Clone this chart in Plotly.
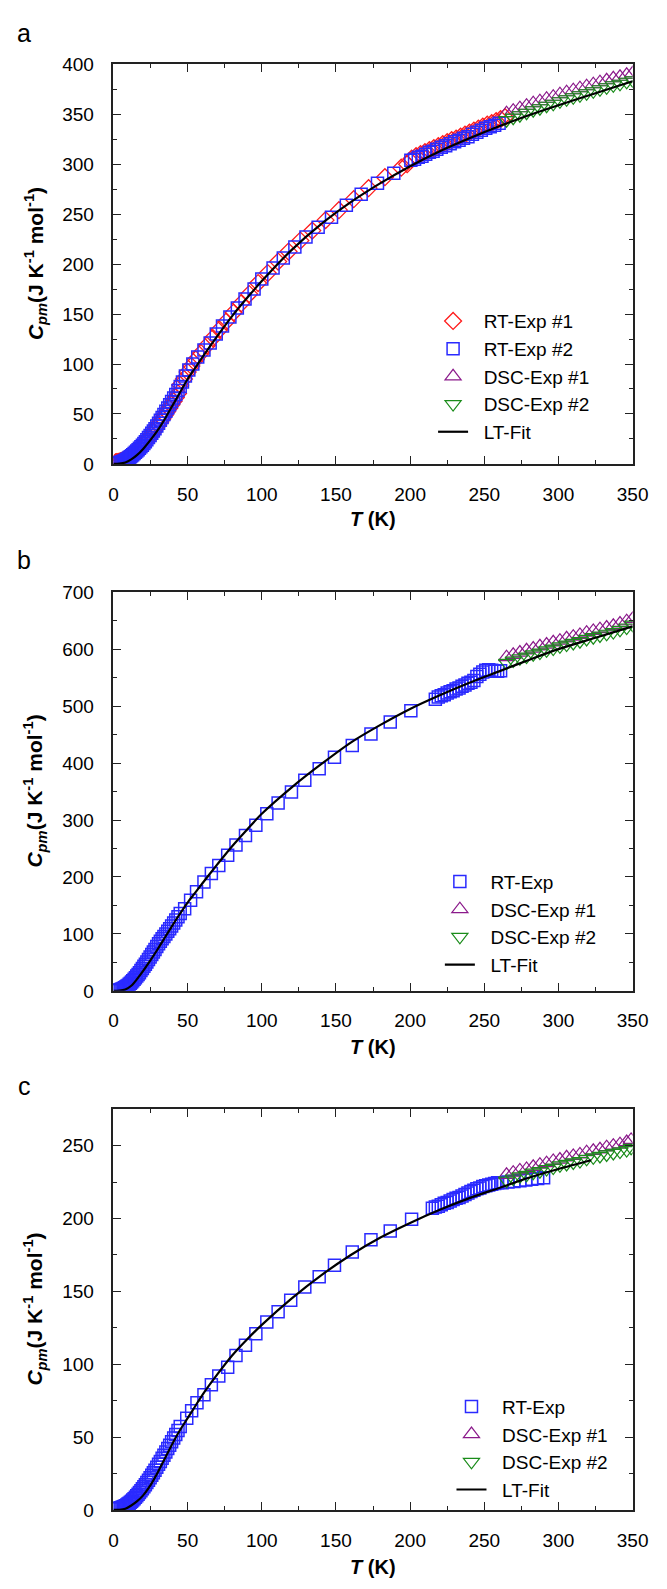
import plotly.graph_objects as go

# ---------------- data ----------------
# low-temperature grid (K) used by RT experiments
T_low = [1.0, 1.8, 2.6, 3.4, 4.2, 5.0, 5.8, 6.6, 7.4, 8.2, 9.0, 9.8, 10.6, 11.4, 12.2, 13.0,
         13.9, 14.8, 15.7, 16.6, 17.5, 18.5, 19.5, 20.5, 21.5, 22.5, 23.6, 24.7, 25.8, 26.9,
         28.0, 29.2, 30.4, 31.6, 32.8, 34.0, 35.3, 36.6, 37.9, 39.2, 40.6, 42.0, 43.5, 45.0]

# ---- panel a ----
a_rt2_T = T_low + [46.5, 48.5, 50.8, 53.5, 56.8, 61, 65.2, 69.3, 73.5, 78.5, 83.5, 88.7, 94.8, 100,
                   107.6, 114.5, 122.3, 129.8, 138, 147, 157, 167, 178, 189,
                   200.5, 203, 205.5, 208, 210.5, 213, 215.5, 218, 221, 224, 227, 230, 233, 236,
                   239, 242, 245, 248, 251, 254, 257, 260]
a_rt2_C = [0.5, 0.6, 0.8, 1.0, 1.3, 1.7, 2.1, 2.6, 3.2, 3.9, 4.6, 5.4, 6.3, 7.2, 8.2, 9.2,
           10.4, 11.6, 12.9, 14.2, 15.6, 17.2, 18.8, 20.5, 22.3, 24.2, 26.4, 28.5, 30.6, 32.9,
           35.3, 38.0, 40.8, 43.6, 46.5, 49.4, 52.6, 55.9, 59.2, 62.5, 66.0, 69.6, 73.5, 77.5] + \
          [82, 88, 94, 100, 107, 114, 121, 130, 138, 147, 156, 165, 175, 185,
           196, 206, 217, 227, 237, 247, 259, 270, 281, 291,
           304, 305, 307, 308, 310, 312, 313, 315, 317, 318.5, 320.5, 322.5, 324, 326,
           327.5, 330, 332, 334, 336, 337.5, 339, 341]

a_rt1_T = [1.4, 2.2, 3.0, 3.8, 4.6, 5.4, 6.2, 7.0, 7.8, 8.6, 9.4, 10.2, 11.0, 12.0, 13.0, 14.0,
           15.2, 16.4, 17.6, 18.8, 20.0, 21.4, 22.8, 24.2, 25.6, 27.0, 28.5, 30.0, 31.5, 33.0,
           34.5, 36.0, 37.5, 39.0, 40.5, 42.0, 43.5,
           45, 47.5, 50, 52.5, 55.5, 59, 63, 67, 71.5, 76, 81, 86, 91.5, 97.5, 104, 111, 118,
           126, 134, 143, 152, 162, 172, 183, 194, 198,
           201, 204, 207, 210, 213, 216, 219, 222, 225, 228, 231, 234, 237, 240, 243, 246,
           249, 252, 255, 258, 261, 264]
a_rt1_C = [1.5, 1.7, 1.9, 2.2, 2.5, 2.9, 3.3, 3.8, 4.4, 5.0, 5.7, 6.5, 7.3, 8.4, 9.6, 10.9,
           12.4, 14.0, 15.7, 17.4, 19.3, 21.8, 24.4, 27.0, 29.6, 32.3, 35.4, 38.6, 41.9, 45.2,
           48.6, 52.1, 55.6, 59.2, 62.8, 66.5, 70.5,
           79, 85, 92, 98, 104.5, 111, 118.5, 126, 134.5, 142.5, 151.5, 160.5, 170, 181, 191,
           202.5, 212.5, 223.5, 233.5, 244, 254, 265, 276, 287, 296.5, 300,
           305.5, 308, 310, 312, 314, 316, 318, 320, 322, 324, 325.5, 327.5, 329.5, 331.5,
           333.5, 335.5, 337.5, 339.5, 341, 343, 345, 347]

dsc_T = [265, 269.5, 274, 278.5, 283, 287.5, 292, 296.5, 301, 305.5, 310, 314.5, 319, 323.5,
         328, 332.5, 337, 341.5, 346, 350]
a_dsc1_C = [351, 353.5, 356, 358.5, 361, 363, 365.5, 367.5, 370, 372, 374, 376, 378, 380,
            382, 384, 386, 387.5, 389.5, 391]
a_dsc2_C = [344, 346.5, 349, 351.5, 354, 356, 358.5, 360.5, 363, 365, 367, 369, 371, 373,
            375, 377, 379, 380.5, 382.5, 384]

fit_T = [0, 4, 8, 12, 16, 20, 25, 30, 35, 40, 45, 50, 55, 60, 70, 80, 90, 100, 120, 140, 160,
         180, 200, 220, 240, 260, 280, 300, 325, 350]
a_fit_C = [0, 0.3, 1.5, 4.5, 9, 15, 24, 34, 46, 59, 72, 85, 96, 107, 128, 148, 166, 183, 214,
           240, 262, 281, 298, 313, 326, 338, 349, 359, 371, 383]

# ---- panel b ----
b_rt_T = T_low + [48, 52, 56, 61, 66, 71, 77, 82.6, 89, 96, 103.4, 111, 120, 129, 138.7, 149,
                  161, 173.6, 186.6, 200.5,
                  217, 219, 221, 223, 225, 227, 229, 231, 233, 235, 237, 239, 241, 243, 245,
                  247, 249, 251, 253, 255, 257, 259, 261]
b_rt_C = [0.5, 0.7, 1.0, 1.4, 1.9, 2.5, 3.3, 4.2, 5.3, 6.6, 8.0, 9.6, 11.4, 13.3, 15.4, 17.6,
          20.2, 23.0, 25.9, 28.9, 32.0, 35.6, 39.3, 43.0, 46.8, 50.7, 55.0, 59.4, 63.8, 68.3,
          72.8, 77.7, 82.6, 87.3, 91.5, 95.5, 100, 104.5, 109, 114, 119, 124.5, 130, 136] + \
         [144, 159, 174, 191, 206, 220, 238, 256, 273, 291, 311, 330, 349, 370, 390, 410,
          431, 451, 472, 492,
          512, 516, 518, 520, 523, 525, 527, 530, 532, 535, 537, 540, 542, 545, 552,
          556, 560, 563, 564, 563, 561, 561, 562]
b_dsc1_C = [586, 590, 594, 598, 601, 605, 608, 612, 615, 619, 622, 625, 629, 632, 635, 638,
            641, 645, 649, 653]
b_dsc2_C = [576, 580, 584, 587, 591, 594, 598, 601, 605, 608, 611, 614, 618, 621, 624, 627,
            630, 634, 638, 643]
b_fit_C = [0, 0.4, 2.5, 9, 21, 35, 54, 74, 95, 116, 136, 155, 172, 189, 222, 254, 283, 311,
           357, 398, 436, 467, 495, 519, 541, 561, 581, 600, 620, 640]

# ---- panel c ----
c_rt_T = T_low + [49.4, 52.7, 56.3, 61, 66, 71, 77, 82.6, 89, 96, 103.4, 111, 119.5, 129,
                  138.7, 149, 161, 173.6, 186.6, 201,
                  215, 217, 219, 221, 223, 225, 227, 229, 231, 233, 235, 237, 239, 241, 243,
                  245, 247, 249, 251, 253, 255, 257, 259, 262, 266, 270, 274, 278, 282, 286, 290]
c_rt_C = [0.8, 0.9, 1.0, 1.1, 1.3, 1.5, 1.8, 2.1, 2.5, 2.9, 3.4, 4.0, 4.6, 5.3, 6.0, 6.8,
          7.7, 8.7, 9.7, 10.8, 11.9, 13.2, 14.5, 15.9, 17.3, 18.8, 20.4, 22.1, 23.8, 25.5,
          27.3, 29.3, 31.3, 33.3, 35.4, 37.5, 39.8, 42.1, 44.4, 46.8, 49.3, 51.8, 54.5, 57.2] + \
         [63, 68, 73.5, 79, 86, 92, 98, 106, 113, 121, 129, 136, 144, 153, 160, 168, 177,
          185.5, 191.5, 199.5,
          207, 208, 208.5, 209.5, 210.5, 211, 212, 213, 214, 214.5, 215.5, 216.5, 217.5,
          218.5, 219.5, 220.5, 221, 222, 222.5, 223, 223.5, 224, 224.5, 224.5, 225, 225.5,
          226, 226.5, 227, 227.5, 228]
c_dsc_T = [265, 269.5, 274, 278.5, 283, 287.5, 292, 296.5, 301, 305.5, 310, 314.5, 319, 323.5,
           328, 332.5, 337, 341.5, 346, 349]
c_dsc1_C = [230, 231.5, 233, 234, 235.5, 237, 238, 239.5, 240.5, 242, 243, 244, 245.5, 246.5,
            247.5, 249, 250, 251, 252.5, 254]
c_dsc2_C = [226, 227.5, 229, 230, 231.5, 232.5, 234, 235, 236.5, 237.5, 238.5, 239.5, 241,
            242, 243, 244, 245, 246, 247, 248.5]
c_fit_T = [0, 4, 8, 12, 16, 20, 25, 30, 35, 40, 45, 50, 55, 60, 70, 80, 90, 100, 120, 140, 160,
           180, 200, 220, 240, 260, 280, 300, 322]
c_fit_C = [0, 0.1, 0.8, 3, 6, 10, 17, 26, 36, 46, 55, 63, 71, 79, 93, 106, 117, 127, 145, 161,
           175, 187, 197, 206, 214, 221, 228, 234, 240]

# ---------------- styling ----------------
W, H = 667, 1589
FONT = "Liberation Sans, Arial, sans-serif"
RED, BLUE, PURPLE, GREEN = "#ff1a1a", "#2a2aff", "#8b1a8b", "#1a8c1a"
NB = "\u00a0\u00a0"   # small gap between legend symbol and its label

# plot-area pixel boxes (left, right, top, bottom)
X_L, X_R = 112, 648
boxes = [(55, 460), (590, 994), (1114, 1520)]


def ydom(top, bot):
    return [1 - bot / H, 1 - top / H]


fig = go.Figure()


def sq(x, y, name, leg, xa, ya):
    return go.Scatter(x=x, y=y, mode="markers", name=NB + name, legend=leg, xaxis=xa, yaxis=ya,
                      marker=dict(symbol="square-open", size=12, color=BLUE,
                                  line=dict(width=1.5, color=BLUE)))


def dia(x, y, name, leg, xa, ya):
    return go.Scatter(x=x, y=y, mode="markers", name=NB + name, legend=leg, xaxis=xa, yaxis=ya,
                      marker=dict(symbol="diamond-open", size=13, color=RED,
                                  line=dict(width=1.3, color=RED)))


def tri(x, y, name, leg, xa, ya, up=True):
    col = PURPLE if up else GREEN
    return go.Scatter(x=x, y=y, mode="markers", name=NB + name, legend=leg, xaxis=xa, yaxis=ya,
                      marker=dict(symbol="triangle-up-open" if up else "triangle-down-open",
                                  size=14, color=col, line=dict(width=1.2, color=col)))


def fit(x, y, leg, xa, ya):
    return go.Scatter(x=x, y=y, mode="lines", name=NB + "LT-Fit", legend=leg, xaxis=xa,
                      yaxis=ya,
                      line=dict(color="black", width=2.2, shape="spline", smoothing=0.8))


# panel a
fig.add_trace(dia(a_rt1_T, a_rt1_C, "RT-Exp #1", "legend", "x", "y"))
fig.add_trace(sq(a_rt2_T, a_rt2_C, "RT-Exp #2", "legend", "x", "y"))
fig.add_trace(tri(dsc_T, a_dsc1_C, "DSC-Exp #1", "legend", "x", "y", True))
fig.add_trace(tri(dsc_T, a_dsc2_C, "DSC-Exp #2", "legend", "x", "y", False))
fig.add_trace(fit(fit_T, a_fit_C, "legend", "x", "y"))
# panel b
fig.add_trace(sq(b_rt_T, b_rt_C, "RT-Exp", "legend2", "x2", "y2"))
fig.add_trace(tri(dsc_T, b_dsc1_C, "DSC-Exp #1", "legend2", "x2", "y2", True))
fig.add_trace(tri(dsc_T, b_dsc2_C, "DSC-Exp #2", "legend2", "x2", "y2", False))
fig.add_trace(fit(fit_T, b_fit_C, "legend2", "x2", "y2"))
# panel c
fig.add_trace(sq(c_rt_T, c_rt_C, "RT-Exp", "legend3", "x3", "y3"))
fig.add_trace(tri(c_dsc_T, c_dsc1_C, "DSC-Exp #1", "legend3", "x3", "y3", True))
fig.add_trace(tri(c_dsc_T, c_dsc2_C, "DSC-Exp #2", "legend3", "x3", "y3", False))
fig.add_trace(fit(c_fit_T, c_fit_C, "legend3", "x3", "y3"))

axis_common = dict(showline=True, linecolor="#222", linewidth=1.6, mirror="ticks",
                   ticks="inside", ticklen=8, tickwidth=1.4, tickcolor="#222",
                   showgrid=False, zeroline=False, fixedrange=True,
                   tickfont=dict(family=FONT, size=19, color="black"))

yranges = [(400, 50, 25), (700, 100, 50), (275, 50, 25)]
layout = dict(width=W, height=H, margin=dict(l=0, r=0, t=0, b=0),
              paper_bgcolor="white", plot_bgcolor="white", showlegend=True,
              hovermode=False, font=dict(family=FONT, color="black"))
for i, ((top, bot), (ymax, dt, mdt)) in enumerate(zip(boxes, yranges)):
    sfx = "" if i == 0 else str(i + 1)
    layout["xaxis" + sfx] = dict(axis_common, domain=[X_L / W, X_R / W], range=[0, 350],
                                 dtick=50, tick0=0, anchor="y" + sfx, ticklabelstandoff=12,
                                 minor=dict(dtick=25, ticks="inside", ticklen=4,
                                            tickwidth=1.2, tickcolor="#222"))
    layout["yaxis" + sfx] = dict(axis_common, domain=ydom(top, bot), range=[0, ymax],
                                 dtick=dt, tick0=0, anchor="x" + sfx, ticklabelstandoff=14,
                                 minor=dict(dtick=mdt, ticks="inside", ticklen=4,
                                            tickwidth=1.2, tickcolor="#222"))

# legends: (symbol-centre px, first-row-centre px)
legpos = [(462, 311), (469, 879), (481, 1411)]
for i, (lx, ly) in enumerate(legpos):
    key = "legend" if i == 0 else "legend" + str(i + 1)
    layout[key] = dict(x=(lx - 20) / W, y=1 - (ly - 15) / H, xanchor="left", yanchor="top",
                       bgcolor="rgba(0,0,0,0)", borderwidth=0, tracegroupgap=0,
                       font=dict(family=FONT, size=19, color="black"))

fig.update_layout(**layout)

ann = []
labels = ["a", "b", "c"]
label_y = [23, 557, 1090]
xtitle_y = [516, 1051, 1578]
for i, (top, bot) in enumerate(boxes):
    ann.append(dict(text=labels[i], x=20 / W, y=1 - label_y[i] / H, xref="paper", yref="paper",
                    showarrow=False, xanchor="center", yanchor="middle",
                    font=dict(family=FONT, size=25, color="black")))
    ann.append(dict(text="<b><i>T</i> (K)</b>", x=(X_L + X_R) / 2 / W, y=1 - xtitle_y[i] / H,
                    xref="paper", yref="paper", showarrow=False, xanchor="center",
                    yanchor="middle", font=dict(family=FONT, size=20, color="black")))
    ann.append(dict(text="<b><i>C</i><sub><i>pm</i></sub>(J K<sup>-1</sup> mol<sup>-1</sup>)</b>",
                    x=31 / W, y=1 - (top + bot) / 2 / H, xref="paper", yref="paper",
                    showarrow=False, xanchor="center", yanchor="middle", textangle=-90,
                    font=dict(family=FONT, size=21, color="black")))
fig.update_layout(annotations=ann)

fig.write_html("out.html", config={"displayModeBar": False},
               post_script="document.body.style.margin='0';document.body.style.padding='0';"
                           "document.documentElement.style.overflow='hidden';")
